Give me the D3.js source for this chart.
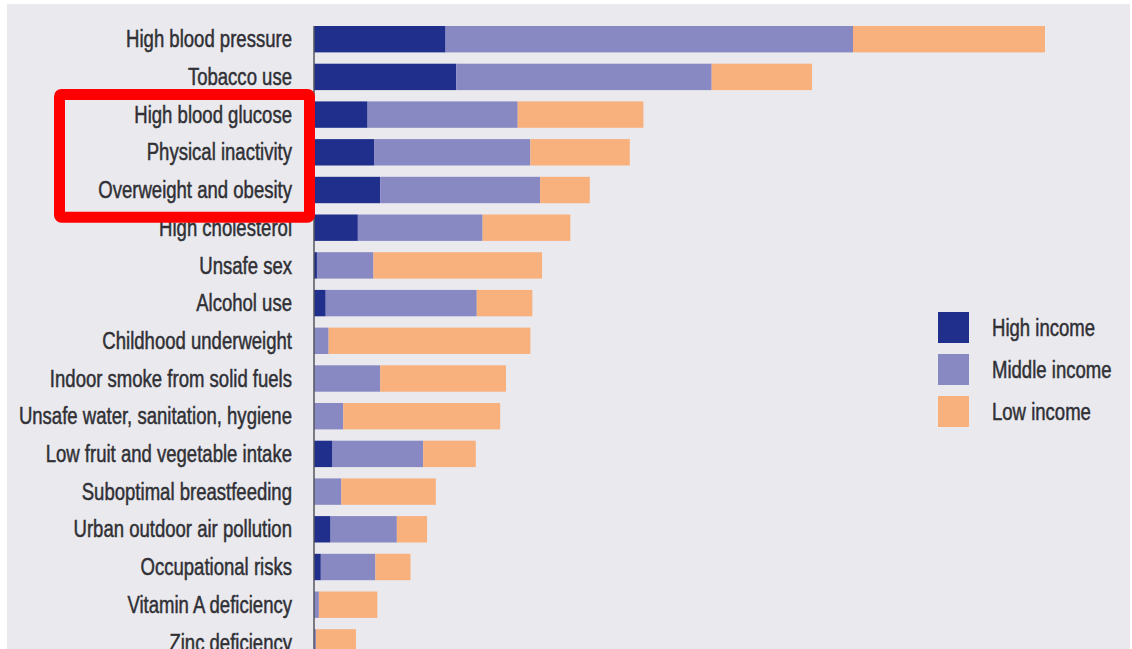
<!DOCTYPE html>
<html>
<head>
<meta charset="utf-8">
<script src="https://cdn.jsdelivr.net/npm/d3@7"></script>
<style>
  html, body { margin: 0; padding: 0; background: #ffffff; }
  svg { display: block; }
</style>
</head>
<body>
<svg id="chart" width="1132" height="649"></svg>
<script>
// Deaths attributable to leading risk factors (millions), by country income group
const riskFactors = [
  "High blood pressure", "Tobacco use", "High blood glucose", "Physical inactivity",
  "Overweight and obesity", "High cholesterol", "Unsafe sex", "Alcohol use",
  "Childhood underweight", "Indoor smoke from solid fuels",
  "Unsafe water, sanitation, hygiene", "Low fruit and vegetable intake",
  "Suboptimal breastfeeding", "Urban outdoor air pollution", "Occupational risks",
  "Vitamin A deficiency", "Zinc deficiency"
];
const highIncome   = [1.35, 1.46, 0.55, 0.62, 0.68, 0.45, 0.03, 0.12, 0.00, 0.00, 0.00, 0.19, 0.00, 0.17, 0.07, 0.00, 0.00];
const middleIncome = [4.18, 2.62, 1.54, 1.60, 1.64, 1.28, 0.58, 1.55, 0.15, 0.68, 0.30, 0.93, 0.28, 0.68, 0.56, 0.05, 0.02];
const lowIncome    = [1.97, 1.03, 1.29, 1.02, 0.51, 0.90, 1.73, 0.57, 2.07, 1.29, 1.61, 0.54, 0.97, 0.31, 0.36, 0.60, 0.41];

const seriesNames = ["High income", "Middle income", "Low income"];
const seriesColors = ["#202f8c", "#8888c2", "#f8b07d"];

const highlighted = ["High blood glucose", "Physical inactivity", "Overweight and obesity"];

const svg = d3.select("#chart");
const W = 1132, H = 649;
const FONT = "'Liberation Sans', Arial, sans-serif";

// panel background
svg.append("rect").attr("x", 7).attr("y", 4).attr("width", W - 9).attr("height", H - 4)
  .attr("fill", "#e9e9ee");

const x0 = 314;
const x = d3.scaleLinear().domain([0, 7.5]).range([x0, 1045]);
const y = d3.scaleBand().domain(riskFactors)
  .range([20.35, 20.35 + 17 * 37.7]).paddingInner(0.3).paddingOuter(0.15);

const rows = riskFactors.map((name, i) => ({
  name, "High income": highIncome[i], "Middle income": middleIncome[i], "Low income": lowIncome[i]
}));
const stacked = d3.stack().keys(seriesNames)(rows);
const color = d3.scaleOrdinal().domain(seriesNames).range(seriesColors);

svg.append("g").selectAll("g").data(stacked).join("g")
  .attr("fill", d => color(d.key))
  .selectAll("rect").data(d => d).join("rect")
  .attr("x", d => x(d[0]))
  .attr("y", d => y(d.data.name))
  .attr("width", d => Math.max(0, x(d[1]) - x(d[0])))
  .attr("height", y.bandwidth());

// condensed lettering: squeeze a regular face horizontally
function condense(sel, squeeze, shiftX) {
  sel.attr("font-family", FONT)
    .attr("font-size", 24)
    .attr("fill", "#303035")
    .attr("stroke", "#303035")
    .attr("stroke-width", 0.5)
    .attr("x", 0)
    .attr("transform", `translate(${shiftX},0) scale(${squeeze},1)`);
}

// category axis
const axis = svg.append("g").attr("transform", `translate(${x0},0)`)
  .call(d3.axisLeft(y).tickSize(0).tickPadding(22));
axis.select(".domain").remove();
axis.append("line")
  .attr("x1", 0).attr("x2", 0)
  .attr("y1", y(riskFactors[0])).attr("y2", H)
  .attr("stroke", "#55555e").attr("stroke-width", 1.5);

const labels = axis.selectAll(".tick text").attr("dy", "0.34em");
labels.attr("font-family", FONT).attr("font-size", 24);
const refWidth = labels.filter(d => d === "High blood pressure").node().getComputedTextLength();
const squeeze = 166 / refWidth;
condense(labels, squeeze, -22);
labels.attr("text-anchor", "end");

// legend
const legend = svg.append("g").selectAll("g").data(seriesNames).join("g")
  .attr("transform", (d, i) => `translate(938,${312 + i * 42})`);
legend.append("rect").attr("width", 31).attr("height", 31).attr("fill", d => color(d));
const legendText = legend.append("text")
  .attr("y", 15.5).attr("dy", "0.34em")
  .text(d => d);
condense(legendText, squeeze, 54);

// highlight box around selected risk factors
const yTop = y(highlighted[0]) - 7;
const yBot = y(highlighted[highlighted.length - 1]) + y.bandwidth() + 14;
svg.append("rect")
  .attr("x", 59.5).attr("y", yTop)
  .attr("width", 250).attr("height", yBot - yTop)
  .attr("rx", 2)
  .attr("fill", "none")
  .attr("stroke", "#ff0000")
  .attr("stroke-width", 11);
</script>
</body>
</html>
